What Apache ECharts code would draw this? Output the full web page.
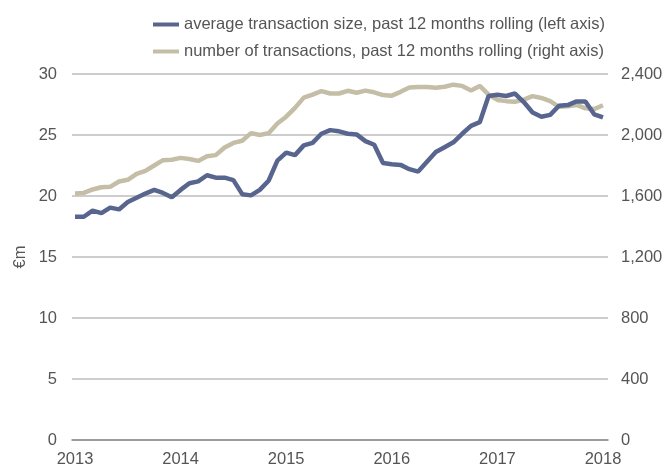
<!DOCTYPE html>
<html><head><meta charset="utf-8">
<script src="https://cdn.jsdelivr.net/npm/echarts@6/dist/echarts.min.js"></script>
<style>html,body{margin:0;padding:0;background:#fff}#c{width:667px;height:468px}</style>
</head><body><div id="c"></div>
<script>
// months since Jan 2013 (0..60)
var startYear = 2013;
var yearTicks = ['2013','2014','2015','2016','2017','2018'];
var leftTicks = [0,5,10,15,20,25,30];
var rightTicks = [0,400,800,1200,1600,2000,2400];
var avgSize = [18.3,18.3,18.8,18.6,19.05,18.9,19.5,19.85,20.2,20.5,20.25,19.9,
  20.5,21.05,21.2,21.7,21.5,21.5,21.3,20.15,20.05,20.5,21.25,22.9,
  23.55,23.35,24.15,24.35,25.1,25.4,25.3,25.1,25.05,24.5,24.2,22.7,
  22.6,22.55,22.2,22.0,22.8,23.6,24.0,24.4,25.1,25.75,26.05,28.2,
  28.3,28.2,28.4,27.7,26.85,26.5,26.65,27.4,27.45,27.75,27.75,26.7,26.45];
var numTrans = [1617,1620,1643,1657,1660,1695,1706,1745,1765,1800,1835,1838,
  1850,1843,1830,1860,1868,1918,1948,1962,2012,2000,2012,2075,
  2120,2178,2245,2265,2288,2272,2272,2290,2277,2291,2280,2262,
  2258,2283,2312,2315,2315,2310,2316,2330,2322,2292,2322,2265,
  2230,2222,2218,2232,2255,2243,2222,2185,2188,2197,2175,2170,2195];
var seriesNames = ['average transaction size, past 12 months rolling (left axis)',
  'number of transactions, past 12 months rolling (right axis)'];

function pairs(arr){ return arr.map(function(v,i){ return [i, v]; }); }

var chart = echarts.init(document.getElementById('c'), null, {renderer:'canvas'});
var font = 'Liberation Sans, Arial, Helvetica, sans-serif';
var fs = 16.5;
chart.setOption({
  animation:false,
  textStyle:{fontFamily:font},
  legend:{
    orient:'vertical', left:148, top:11, itemWidth:26, itemHeight:4, itemGap:10,
    icon:'rect',
    textStyle:{fontSize:fs, color:'#555', fontFamily:font},
    data:seriesNames
  },
  grid:{left:72, right:59, top:74, bottom:26, containLabel:false},
  xAxis:{
    type:'value', min:-0.34, max:60.57,
    axisLine:{show:true, onZero:false, lineStyle:{color:'#8c8c8c', width:1.5}},
    axisTick:{show:false}, splitLine:{show:false},
    axisLabel:{
      customValues:[0,12,24,36,48,60],
      formatter:function(v){ return String(startYear + Math.round(v/12)); },
      fontSize:fs, color:'#555', margin:11, fontFamily:font
    }
  },
  yAxis:[{
    type:'value', min:0, max:30, interval:5, position:'left',
    name:'€m', nameLocation:'middle', nameGap:43, nameRotate:90, nameMoveOverlap:false,
    nameTextStyle:{fontSize:fs, color:'#555', fontFamily:font},
    axisLine:{show:false}, axisTick:{show:false},
    axisLabel:{fontSize:fs, color:'#555', margin:15, fontFamily:font},
    splitLine:{lineStyle:{color:'#bdbdbd', width:1.5}}
  },{
    type:'value', min:0, max:2400, interval:400, position:'right',
    axisLine:{show:false}, axisTick:{show:false},
    axisLabel:{fontSize:fs, color:'#555', margin:13, fontFamily:font,
      formatter:function(v){ return v.toLocaleString('en-US'); }},
    splitLine:{show:false}
  }],
  series:[{
    name:seriesNames[0], type:'line', yAxisIndex:0, data:pairs(avgSize),
    symbol:'none', lineStyle:{color:'#58658f', width:4.5}, itemStyle:{color:'#58658f'}, z:3
  },{
    name:seriesNames[1], type:'line', yAxisIndex:1, data:pairs(numTrans),
    symbol:'none', lineStyle:{color:'#c4bea7', width:4.5}, itemStyle:{color:'#c4bea7'}, z:2
  }]
});
</script></body></html>
